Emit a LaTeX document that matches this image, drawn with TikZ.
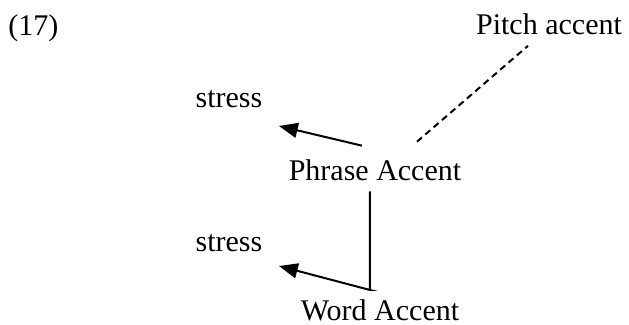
\documentclass[tikz,border=0pt]{standalone}
\usepackage{fontspec}
\setmainfont{Liberation Serif}
\usetikzlibrary{positioning, arrows.meta}
\tikzset{
    lbl/.style       = {inner sep=0pt, anchor=base, font=\fontsize{12}{14}\selectfont},
    tiearrow/.style  = {-{Triangle[length=7.5pt, width=6pt]}, line width=0.8pt},
    pitchline/.style = {line width=0.8pt, dash pattern=on 2.6pt off 1.8pt},
}

\begin{document}
\begin{tikzpicture}[x=0.4pt, y=-0.4pt]
\useasboundingbox (0,0) rectangle (629,325);

\node[lbl, anchor=base west] (num) at (8,36) {(17)};
\node[lbl] (pitch) at (549,35) {Pitch accent};

\node[lbl] (stressA) at (229,108) {stress};
\node[lbl] (phrase) at (375,181) {Phrase Accent};

\node[lbl] (stressB) at (229,252) {stress};
\node[lbl] (word) at (380,321) {Word Accent};

% free ends of the connectors
\coordinate (tipA) at (279,126);
\coordinate (tipB) at (279,266);
\coordinate (bend) at (370,290);

\draw[tiearrow] ([xshift=-5.2pt, yshift=5.6pt]phrase.north) -- (tipA);
\draw[tiearrow] ([xshift=-2pt, yshift=-3.8pt]phrase.south) |- (bend) -- (tipB);
\draw[pitchline] ([xshift=16.8pt, yshift=7.2pt]phrase.north) -- ([xshift=-8.4pt, yshift=-4pt]pitch.south);

\end{tikzpicture}
\end{document}
